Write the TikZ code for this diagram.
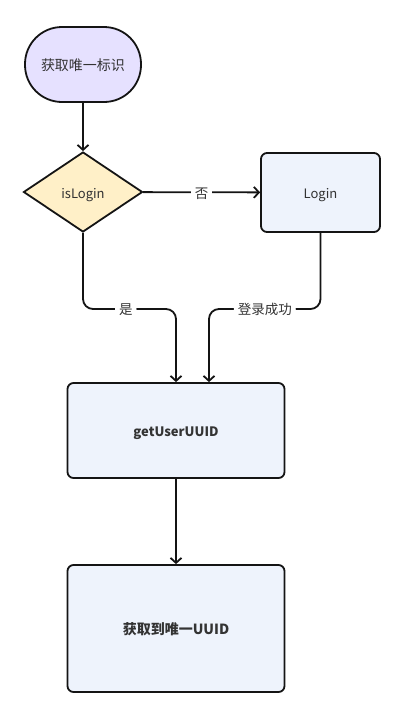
\documentclass[tikz,border=0pt]{standalone}
\usepackage{fontspec}
\setmainfont{Noto Sans CJK SC}
\usetikzlibrary{shapes.geometric,arrows.meta,calc}
\definecolor{startfill}{HTML}{E6E1FF}
\definecolor{decfill}{HTML}{FFF0C8}
\definecolor{boxfill}{HTML}{EEF3FC}
\definecolor{edge}{HTML}{141414}
\definecolor{txt}{HTML}{333333}
\begin{document}
\begin{tikzpicture}[x=1pt,y=-1pt,
  base/.style={draw=edge,line width=1.8pt,text=txt,font=\fontsize{13}{15}\selectfont,text height=12pt,text depth=0pt},
  cjk/.style={font=\fontsize{14}{16}\selectfont},
  term/.style={base,fill=startfill,rounded corners=37pt,minimum width=116pt,minimum height=75pt},
  dec/.style={base,fill=decfill,diamond,aspect=1.5,minimum width=119pt,minimum height=80pt,inner sep=0pt},
  proc/.style={base,fill=boxfill,rounded corners=6pt},
  arr/.style={draw=edge,line width=1.8pt,-{Straight Barb[length=5pt,width=11pt,line width=1.8pt]}},
  lbl/.style={fill=white,text=txt,font=\fontsize{13.5}{15}\selectfont,inner sep=4pt,text height=11.5pt,text depth=0pt}]
\useasboundingbox (0,0) rectangle (405,718);
\node[term,cjk] (start) at (83,64.5) {获取唯一标识};
\node[dec] (dec) at (83,192) {isLogin};
\node[proc,minimum width=119pt,minimum height=79pt] (login) at (320.5,192.5) {Login};
\node[proc,minimum width=217pt,minimum height=95pt,font=\fontsize{13}{15}\selectfont\bfseries] (get) at (176,430.5) {getUserUUID};
\node[proc,minimum width=217pt,minimum height=127pt,font=\fontsize{14}{16}\selectfont\bfseries] (res) at (176,628.5) {获取到唯一UUID};
\coordinate (c1) at (176,309);
\coordinate (c2) at (209,309);
\draw[arr] (start) -- (dec);
\draw[arr] (dec) -- node[lbl]{否} (login);
\draw[arr,rounded corners=10pt] (dec.south) |- node[lbl,pos=0.73]{是} (c1) -- (get.north -| c1);
\draw[arr,rounded corners=10pt] (login.south) |- node[lbl,pos=0.75]{登录成功} (c2) -- (get.north -| c2);
\draw[arr] (get.south) -- (res.north);
\end{tikzpicture}
\end{document}
